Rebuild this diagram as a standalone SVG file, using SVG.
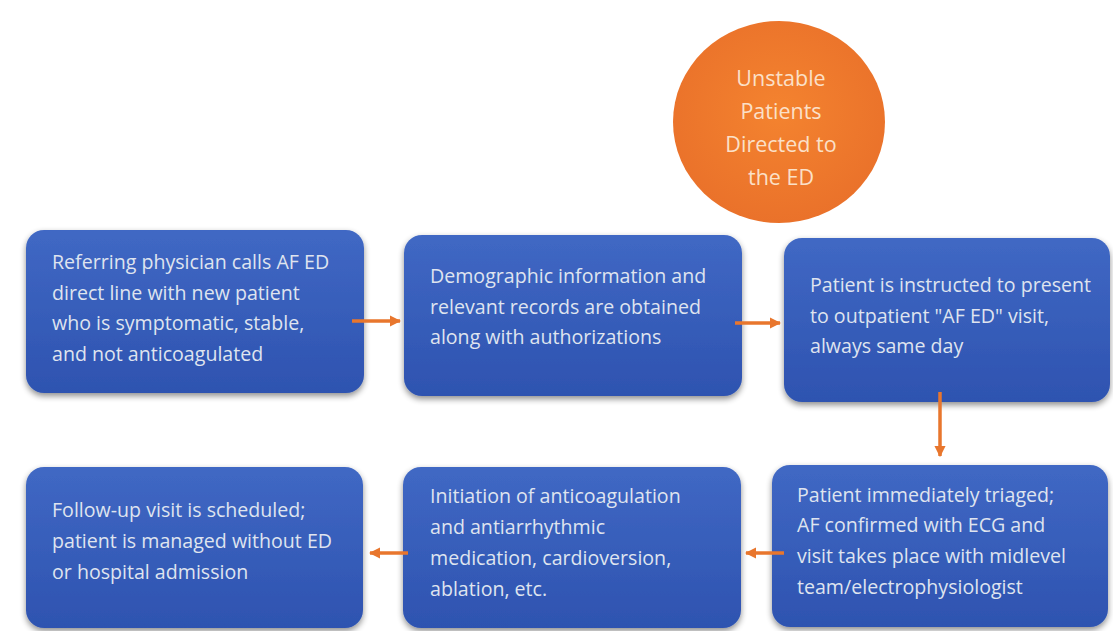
<svg xmlns="http://www.w3.org/2000/svg" width="1113" height="631" viewBox="0 0 1113 631">
<defs>
<linearGradient id="gBox" x1="0" y1="0" x2="0" y2="1">
<stop offset="0" stop-color="#4068c4"/>
<stop offset="1" stop-color="#2e53b0"/>
</linearGradient>
<radialGradient id="gCirc" cx="0.5" cy="0.45" r="0.6">
<stop offset="0" stop-color="#f4832f"/>
<stop offset="1" stop-color="#e9702a"/>
</radialGradient>
<filter id="sh" x="-10%" y="-10%" width="120%" height="125%">
<feGaussianBlur in="SourceAlpha" stdDeviation="3"/>
<feOffset dx="0" dy="3" result="b"/>
<feComponentTransfer><feFuncA type="linear" slope="0.45"/></feComponentTransfer>
<feMerge><feMergeNode/><feMergeNode in="SourceGraphic"/></feMerge>
</filter>
<marker id="ah" viewBox="0 0 10 10" refX="9" refY="5" markerWidth="3.2" markerHeight="3.2" orient="auto">
<path d="M0,0 L10,5 L0,10 z" fill="#e8762d"/>
</marker>
<style>
.box{fill:url(#gBox);filter:url(#sh)}
.t{font-family:"Open Sans","Liberation Sans",sans-serif;font-size:19.6px;fill:#dfe4ef}
.ct{font-family:"Open Sans","Liberation Sans",sans-serif;font-size:21.5px;fill:#fbe0c8;text-anchor:middle}
.arr{stroke:#e8762d;stroke-width:3.5;fill:none;marker-end:url(#ah)}
</style>
</defs>
<rect width="1113" height="631" fill="#ffffff"/>
<g id="unstable">
<ellipse cx="779" cy="122" rx="106" ry="101" fill="url(#gCirc)"/>
<text class="ct" x="781" y="86">Unstable</text>
<text class="ct" x="781" y="119">Patients</text>
<text class="ct" x="781" y="152">Directed to</text>
<text class="ct" x="781" y="185">the ED</text>
</g>
<g id="n1">
<rect class="box" x="26" y="230" width="338" height="163" rx="18"/>
<text class="t" x="52" y="269">Referring physician calls AF ED</text>
<text class="t" x="52" y="300">direct line with new patient</text>
<text class="t" x="52" y="330">who is symptomatic, stable,</text>
<text class="t" x="52" y="361">and not anticoagulated</text>
</g>
<g id="n2">
<rect class="box" x="404" y="235" width="338" height="161" rx="18"/>
<text class="t" x="430" y="283">Demographic information and</text>
<text class="t" x="430" y="314">relevant records are obtained</text>
<text class="t" x="430" y="344">along with authorizations</text>
</g>
<g id="n3">
<rect class="box" x="784" y="238" width="326" height="164" rx="18"/>
<text class="t" x="810" y="292">Patient is instructed to present</text>
<text class="t" x="810" y="323">to outpatient "AF ED" visit,</text>
<text class="t" x="810" y="353">always same day</text>
</g>
<g id="n4">
<rect class="box" x="772" y="465" width="336" height="162" rx="18"/>
<text class="t" x="797" y="502">Patient immediately triaged;</text>
<text class="t" x="797" y="532">AF confirmed with ECG and</text>
<text class="t" x="797" y="563">visit takes place with midlevel</text>
<text class="t" x="797" y="594">team/electrophysiologist</text>
</g>
<g id="n5">
<rect class="box" x="403" y="467" width="338" height="161" rx="18"/>
<text class="t" x="430" y="503">Initiation of anticoagulation</text>
<text class="t" x="430" y="534">and antiarrhythmic</text>
<text class="t" x="430" y="565">medication, cardioversion,</text>
<text class="t" x="430" y="596">ablation, etc.</text>
</g>
<g id="n6">
<rect class="box" x="26" y="467" width="337" height="161" rx="18"/>
<text class="t" x="52" y="517">Follow-up visit is scheduled;</text>
<text class="t" x="52" y="548">patient is managed without ED</text>
<text class="t" x="52" y="579">or hospital admission</text>
</g>
<g id="connectors">
<line class="arr" x1="352" y1="321" x2="400" y2="321"/>
<line class="arr" x1="735" y1="323" x2="780" y2="323"/>
<line class="arr" x1="940" y1="392" x2="940" y2="456"/>
<line class="arr" x1="784" y1="553" x2="746" y2="553"/>
<line class="arr" x1="408" y1="553" x2="370" y2="553"/>
</g>
</svg>
